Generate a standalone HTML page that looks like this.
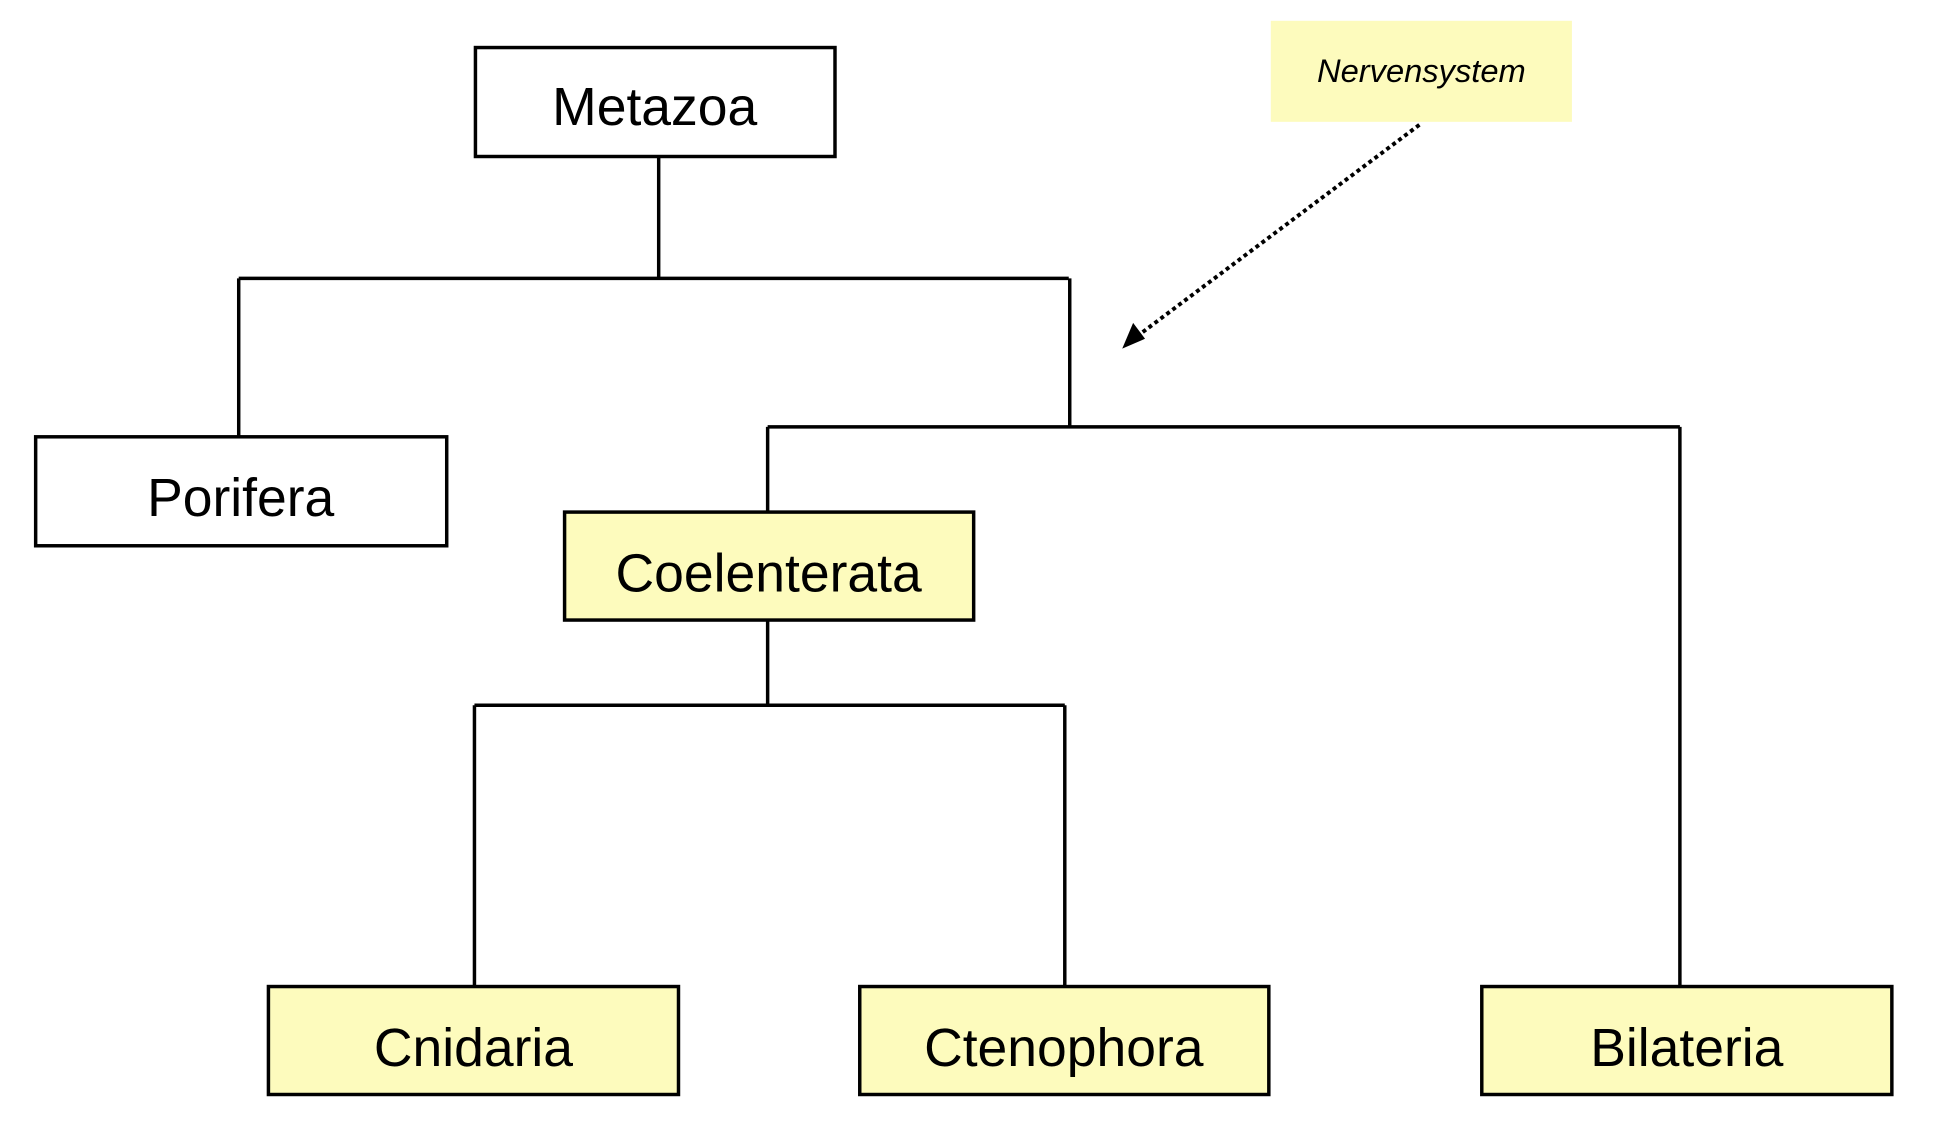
<!DOCTYPE html>
<html><head><meta charset="utf-8"><style>
body{margin:0;background:#fff}
svg{display:block}
text{font-family:"Liberation Sans",sans-serif}
</style></head><body>
<svg width="1942" height="1144" viewBox="0 0 1942 1144" xmlns="http://www.w3.org/2000/svg">
<g transform="scale(0.9905)">
<g stroke="#000" stroke-width="3.5" fill="none">
<line x1="665" y1="158" x2="665" y2="281"/>
<line x1="241" y1="281" x2="1079" y2="281"/>
<line x1="241" y1="281" x2="241" y2="441"/>
<line x1="1080" y1="281" x2="1080" y2="431"/>
<line x1="775" y1="431" x2="1696" y2="431"/>
<line x1="775" y1="431" x2="775" y2="517"/>
<line x1="775" y1="626" x2="775" y2="712"/>
<line x1="479" y1="712" x2="1075" y2="712"/>
<line x1="479" y1="712" x2="479" y2="996"/>
<line x1="1075" y1="712" x2="1075" y2="996"/>
<line x1="1696" y1="431" x2="1696" y2="996"/>
</g>
<rect x="1283" y="21" width="304" height="102" fill="#fdfbbd"/>
<text x="1435" y="83" font-size="33" font-style="italic" text-anchor="middle">Nervensystem</text>
<line x1="1433" y1="126" x2="1150" y2="338" stroke="#000" stroke-width="4" stroke-dasharray="4,3.5"/>
<path d="M1133,352 L1144,326 L1156,342 z" fill="#000"/>
<g stroke="#000" stroke-width="3.5">
<rect x="480" y="48" width="363" height="110" fill="#fff"/>
<rect x="36" y="441" width="415" height="110" fill="#fff"/>
<rect x="570" y="517" width="413" height="109" fill="#fdfbbd"/>
<rect x="271" y="996" width="414" height="109" fill="#fdfbbd"/>
<rect x="868" y="996" width="413" height="109" fill="#fdfbbd"/>
<rect x="1496" y="996" width="414" height="109" fill="#fdfbbd"/>
</g>
<g font-size="54" text-anchor="middle">
<text x="661" y="126">Metazoa</text>
<text x="243" y="521">Porifera</text>
<text x="776" y="597">Coelenterata</text>
<text x="478" y="1076">Cnidaria</text>
<text x="1074" y="1076">Ctenophora</text>
<text x="1703" y="1076">Bilateria</text>
</g>
</g>
</svg>
</body></html>
